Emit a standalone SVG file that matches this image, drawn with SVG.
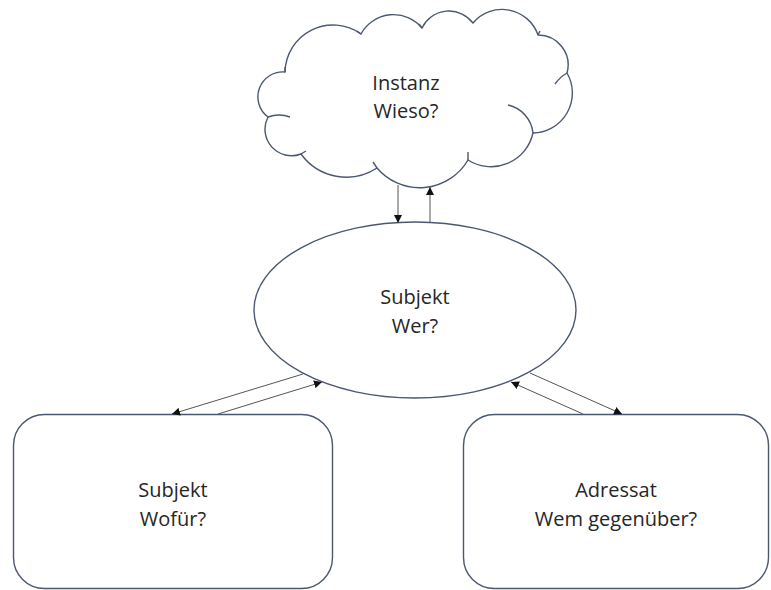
<svg xmlns="http://www.w3.org/2000/svg" width="771" height="590" viewBox="0 0 771 590">
  <style>
    .shape { fill: #ffffff; stroke: #4a5870; stroke-width: 1.4; }
    .tick { fill: none; stroke: #4a5870; stroke-width: 1.4; }
    .lbl { font-family: "Open Sans", "Noto Sans", "Liberation Sans", sans-serif; font-size: 20px; fill: #262626; text-anchor: middle; }
    .conn { stroke: #555555; stroke-width: 1; fill: none; marker-end: url(#arrow); }
  </style>
  <defs>
    <marker id="arrow" viewBox="0 0 10 10" refX="10" refY="5" markerWidth="8" markerHeight="8" markerUnits="userSpaceOnUse" orient="auto">
      <path d="M0,0 L10,5 L0,10 Z" fill="#111111"/>
    </marker>
  </defs>

  <g id="instanz">
    <path class="shape" d="M285,72 A48 48 0 0 1 361,34 A37 37 0 0 1 422,28 A30 30 0 0 1 473,23 A38 38 0 0 1 538,35 A30 30 0 0 1 567,73 A40 40 0 0 1 533,133 A43 43 0 0 1 468,160 A56 56 0 0 1 377,168 A56 56 0 0 1 301,154 A26.5 26.5 0 0 1 268,117 A25 25 0 0 1 285,72 Z"/>
    <path class="tick" d="M508,105 A32 32 0 0 1 533,133"/>
    <path class="tick" d="M268,117 Q279,113 290,117"/>
    <path class="tick" d="M567,73 Q560,77 555,84"/>
    <path class="tick" d="M285,72 L285,67"/>
    <path class="tick" d="M361,34 L357,31"/>
    <path class="tick" d="M422,28 L419,24"/>
    <path class="tick" d="M538,35 L540,31"/>
    <path class="tick" d="M468,160 L468,152"/>
    <path class="tick" d="M377,168 L373,162"/>
    <path class="tick" d="M301,154 L306,151"/>
    <text class="lbl" x="406" y="90">Instanz</text>
    <text class="lbl" x="406" y="118">Wieso?</text>
  </g>

  <g id="subjekt-wer">
    <ellipse class="shape" cx="415" cy="310" rx="161" ry="88"/>
    <text class="lbl" x="415" y="304">Subjekt</text>
    <text class="lbl" x="415" y="333">Wer?</text>
  </g>

  <g id="subjekt-wofuer">
    <rect class="shape" x="13.5" y="414.5" width="319" height="174" rx="31" ry="31"/>
    <text class="lbl" x="173" y="497">Subjekt</text>
    <text class="lbl" x="173" y="526">Wofür?</text>
  </g>

  <g id="adressat">
    <rect class="shape" x="463.5" y="414.5" width="305" height="174" rx="31" ry="31"/>
    <text class="lbl" x="616" y="497">Adressat</text>
    <text class="lbl" x="616" y="526">Wem gegenüber?</text>
  </g>

  <g id="connectors">
    <line class="conn" x1="398" y1="185" x2="398" y2="223"/>
    <line class="conn" x1="430" y1="223" x2="430" y2="187"/>
    <line class="conn" x1="303" y1="374" x2="172" y2="414"/>
    <line class="conn" x1="218" y1="414" x2="322" y2="382"/>
    <line class="conn" x1="530" y1="373" x2="622" y2="414"/>
    <line class="conn" x1="583" y1="414" x2="511" y2="382"/>
  </g>
</svg>
